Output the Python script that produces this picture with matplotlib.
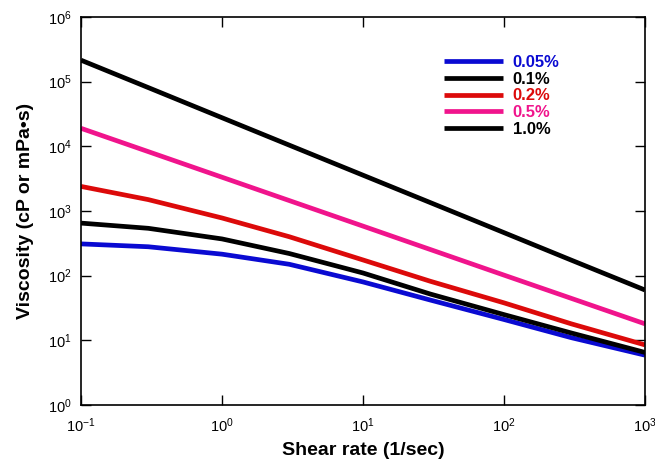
import matplotlib
matplotlib.use("Agg")
import matplotlib.pyplot as plt
from matplotlib.ticker import LogLocator, NullLocator

plt.rcParams['font.family'] = ['Liberation Sans', 'DejaVu Sans']
plt.rcParams['mathtext.fontset'] = 'custom'
plt.rcParams['mathtext.rm'] = 'Liberation Sans'
plt.rcParams['mathtext.it'] = 'Liberation Sans:italic'
plt.rcParams['mathtext.bf'] = 'Liberation Sans:bold'

shear = [0.1, 0.3, 1, 3, 10, 30, 100, 300, 1000]
labels = ['0.05%', '0.1%', '0.2%', '0.5%', '1.0%']
visc_005 = [310, 280, 215, 150, 80, 42, 21, 11, 5.9]
visc_01 = [650, 540, 370, 220, 110, 52, 25, 13, 6.5]
visc_02 = [2400, 1500, 780, 400, 175, 82, 38, 18, 8.5]
visc_05 = [19000, 8280, 3330, 1450, 584, 254, 102, 44.6, 18]
visc_10 = [215000, 81000, 27700, 10430, 3580, 1350, 463, 174, 60]
colors = ['#0a0ad2', '#000000', '#dc0a0a', '#f0148c', '#000000']

fig = plt.figure(figsize=(6.55, 4.66), dpi=100)
ax = fig.add_axes([0.1237, 0.1309, 0.861, 0.8326])

for vals, lab, c in zip([visc_005, visc_01, visc_02, visc_05, visc_10], labels, colors):
    ax.plot(shear, vals, color=c, lw=3.4, label=lab, solid_capstyle='butt')

ax.set_xscale('log')
ax.set_yscale('log')
ax.set_xlim(0.1, 1000)
ax.set_ylim(1, 1e6)
ax.xaxis.set_major_locator(LogLocator(base=10, numticks=10))
ax.yaxis.set_major_locator(LogLocator(base=10, numticks=10))
ax.xaxis.set_minor_locator(NullLocator())
ax.yaxis.set_minor_locator(NullLocator())
ax.tick_params(which='major', direction='in', length=7, width=1, top=True, right=True,
               labelsize=10.5)
ax.tick_params(axis='x', pad=8)
ax.tick_params(axis='y', pad=7)
for s in ax.spines.values():
    s.set_linewidth(1.2)

ax.set_xlabel('Shear rate (1/sec)', fontsize=14, fontweight='bold', labelpad=5)
ax.set_ylabel('Viscosity (cP or mPa•s)', fontsize=14, fontweight='bold', labelpad=10)

leg = ax.legend(loc='upper left', bbox_to_anchor=(0.644, 0.902), frameon=False,
                labelcolor='linecolor', handlelength=3.5, handletextpad=0.6,
                labelspacing=0.1, borderpad=0, borderaxespad=0,
                prop={'weight': 'bold', 'size': 12})

fig.savefig('out.png', dpi=100)
